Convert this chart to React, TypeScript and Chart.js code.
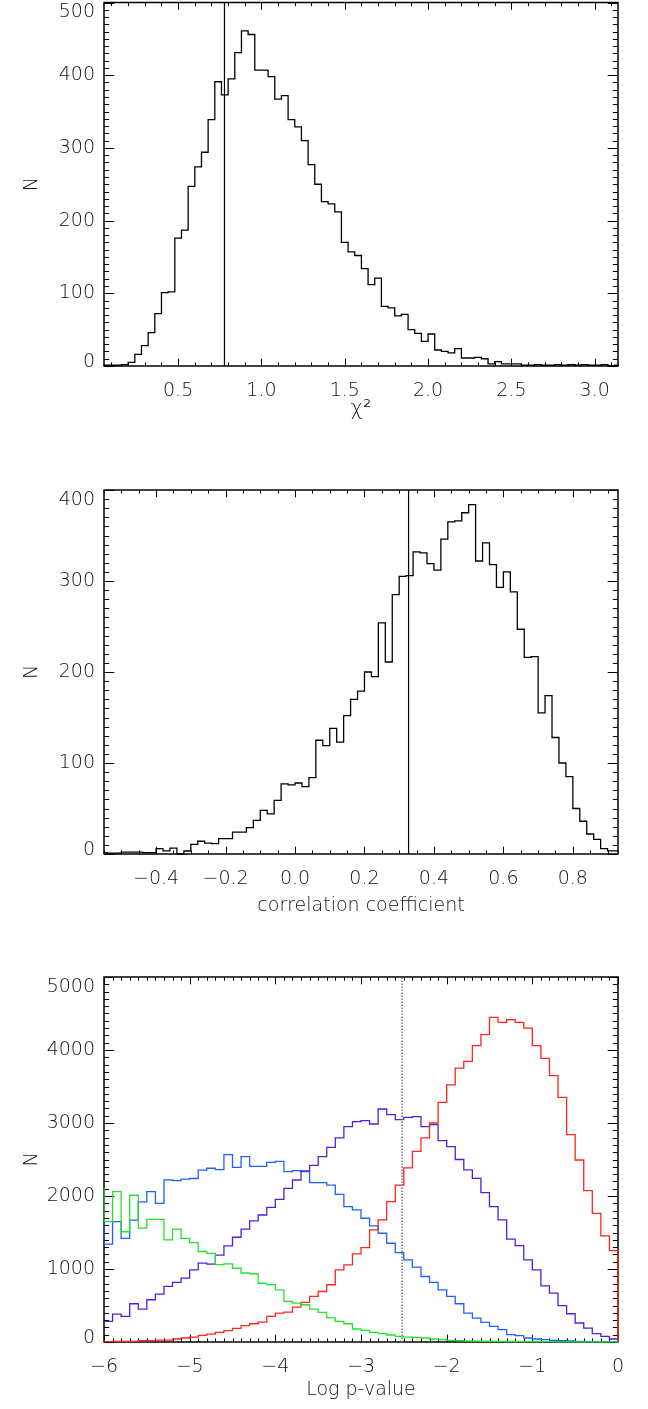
import React, { useEffect, useRef } from 'react';
import { Chart, registerables } from 'chart.js';

Chart.register(...registerables);

const FONT_FAMILY = 'DejaVu Sans';
const FONT_WEIGHT = 200;
const TEXT_COLOR = '#111';

// ---------- Panel 1: chi^2 histogram ----------
const chiBinStart = 0.04;
const chiBinWidth = 0.04;
const chiCounts = [
  1, 1, 1, 2, 5, 16, 28, 46, 72, 101, 102, 176, 187, 247, 274, 294, 339, 391, 373, 395,
  431, 461, 456, 407, 407, 398, 367, 372, 339, 329, 310, 277, 250, 226, 223, 212, 170, 157, 152, 134,
  112, 121, 82, 80, 69, 71, 50, 45, 34, 44, 22, 20, 18, 24, 11, 11, 12, 10, 3, 6,
  3, 3, 3, 1, 1, 2, 1, 1, 2, 1, 2, 1, 2, 1, 1, 2, 0, 1,
];
const chiMarker = [0.778];
const chiXTicks = [0.5, 1.0, 1.5, 2.0, 2.5, 3.0];
const chiXTickLabels = ['0.5', '1.0', '1.5', '2.0', '2.5', '3.0'];
const chiYTicks = [0, 100, 200, 300, 400, 500];
const chiYTickLabels = ['0', '100', '200', '300', '400', '500'];

// ---------- Panel 2: correlation coefficient histogram ----------
const corrBinStart = -0.56;
const corrBinWidth = 0.02;
const corrCounts = [
  1.5, 1, 1, 2, 2, 2, 1.5, 1.5, 6, 3.5, 6.5, 0, 3.3, 10.5, 14, 12, 11.5, 17, 17, 24,
  24, 29, 37, 48, 44, 59, 77, 76, 78, 74, 84, 125, 119, 138, 123, 152, 170, 179, 200, 195,
  254, 211, 285, 305, 306, 332, 331, 319, 312, 346, 365, 366, 375, 384, 322, 342, 318, 293, 310, 288,
  247, 216, 217, 155, 174, 128, 100, 85, 50, 36, 22, 16, 6, 3.5, 3.5,
];
const corrMarker = [0.327];
const corrXTicks = [-0.4, -0.2, 0.0, 0.2, 0.4, 0.6, 0.8];
const corrXTickLabels = ['\u22120.4', '\u22120.2', '0.0', '0.2', '0.4', '0.6', '0.8'];
const corrYTicks = [0, 100, 200, 300, 400];
const corrYTickLabels = ['0', '100', '200', '300', '400'];

// ---------- Panel 3: log p-value histograms (first bin lies just left of the axis) ----------
const pBinStart = -6.1;
const pBinWidth = 0.1;
const pRed = [
  5, 5, 8, 9, 9, 18, 18, 27, 27, 41, 55, 68, 91, 109, 132, 155, 187, 223, 250, 273, 351,
  396, 410, 478, 542, 624, 692, 784, 989, 1057, 1207, 1294, 1535, 1672, 1923, 2150, 2385, 2612, 2795, 3000, 3283,
  3521, 3753, 3845, 4059, 4210, 4447, 4379, 4415, 4379, 4301, 4059, 3886, 3648, 3352, 2840, 2493, 2073, 1763, 1453, 1253,
];
const pPurple = [
  282, 282, 383, 351, 524, 451, 579, 656, 761, 816, 875, 989, 1080, 1066, 1189, 1317, 1435, 1545, 1658, 1740, 1845,
  1955, 2105, 2219, 2345, 2420, 2539, 2667, 2795, 2950, 3018, 3032, 2986, 3192, 3114, 3046, 3078, 3087, 2950, 2977, 2758,
  2676, 2500, 2358, 2242, 2046, 1854, 1672, 1408, 1321, 1125, 989, 770, 670, 497, 387, 260, 191, 114, 77, 41,
];
const pBlue = [
  1617, 1340, 1650, 1420, 1670, 1920, 2060, 1900, 2220, 2210, 2230, 2240, 2355, 2380, 2360, 2566, 2393, 2539, 2406, 2406, 2461,
  2475, 2333, 2347, 2333, 2182, 2182, 2150, 2023, 1854, 1809, 1695, 1590, 1490, 1353, 1225, 1125, 1025, 897, 816, 715,
  624, 524, 396, 328, 269, 214, 169, 100, 87, 55, 41, 32, 23, 18, 14, 9, 5, 5, 5, 5,
];
const pGreen = [
  2105, 1650, 2060, 1510, 2010, 1560, 1680, 1680, 1400, 1545, 1420, 1360, 1240, 1215, 1060, 1070, 1010, 945, 935, 805, 785,
  715, 555, 533, 510, 450, 405, 330, 282, 250, 178, 160, 132, 114, 96, 77, 68, 64, 55, 41, 32,
  23, 18, 14, 12, 10, 9, 8, 7, 6, 5, 5, 4, 4, 3, 3, 2, 2, 2, 1, 1,
];
const pMarker = [-2.52];
const pXTicks = [-6, -5, -4, -3, -2, -1, 0];
const pXTickLabels = ['\u22126', '\u22125', '\u22124', '\u22123', '\u22122', '\u22121', '0'];
const pYTicks = [0, 1000, 2000, 3000, 4000, 5000];
const pYTickLabels = ['0', '1000', '2000', '3000', '4000', '5000'];

const COLORS = {
  red: 'rgb(255,38,28)',
  purple: 'rgb(78,32,222)',
  blue: 'rgb(32,96,255)',
  green: 'rgb(36,226,46)',
};

function stepPoints(start: number, width: number, counts: number[]) {
  const pts = counts.map((c, i) => ({ x: +(start + i * width).toFixed(5), y: c }));
  pts.push({ x: +(start + counts.length * width).toFixed(5), y: 0 });
  return pts;
}

function markerPoints(xs: number[], yMin: number, yMax: number) {
  return [
    { x: xs[0], y: yMin },
    { x: xs[0], y: yMax },
  ];
}

const framePlugin = {
  id: 'frameTicks',
  beforeDatasetsDraw(chart: any, _args: any, opts: any) {
    const { ctx, chartArea: a, scales } = chart;
    const xs = scales.x;
    const ys = scales.y;
    ctx.save();
    ctx.strokeStyle = '#000';
    ctx.lineWidth = 1;
    ctx.beginPath();
    const xLen = opts.xTickLen;
    const yLen = opts.yTickLen;
    const i0 = Math.ceil(xs.min / opts.xMinor - 1e-6);
    for (let i = i0; i * opts.xMinor <= xs.max + 1e-9; i++) {
      const v = i * opts.xMinor;
      const r = v / opts.xMajor;
      const major = Math.abs(r - Math.round(r)) < 1e-6;
      const len = major ? xLen : xLen / 2;
      const px = Math.round(xs.getPixelForValue(v)) + 0.5;
      ctx.moveTo(px, a.bottom);
      ctx.lineTo(px, a.bottom - len);
      ctx.moveTo(px, a.top);
      ctx.lineTo(px, a.top + len);
    }
    const j0 = Math.ceil(ys.min / opts.yMinor - 1e-6);
    for (let j = j0; j * opts.yMinor <= ys.max + 1e-9; j++) {
      const v = j * opts.yMinor;
      const r = v / opts.yMajor;
      const major = Math.abs(r - Math.round(r)) < 1e-6;
      const len = major ? yLen : yLen / 2;
      const py = Math.round(ys.getPixelForValue(v)) + 0.5;
      ctx.moveTo(a.left, py);
      ctx.lineTo(a.left + len, py);
      ctx.moveTo(a.right, py);
      ctx.lineTo(a.right - len, py);
    }
    ctx.stroke();
    ctx.lineWidth = 1.5;
    ctx.strokeRect(a.left, a.top, a.right - a.left, a.bottom - a.top);
    ctx.restore();
  },
};

interface PanelSpec {
  top: number;
  height: number;
  padTop: number;
  xAxisHeight: number;
  titlePadBottom: number;
  xMin: number;
  xMax: number;
  yMin: number;
  yMax: number;
  xTicks: number[];
  xTickLabels: string[];
  yTicks: number[];
  yTickLabels: string[];
  xMinor: number;
  xMajor: number;
  yMinor: number;
  yMajor: number;
  xTitle: string;
  titleSize: number;
  datasets: any[];
}

function buildConfig(p: PanelSpec): any {
  const font = { family: FONT_FAMILY, size: 19, weight: FONT_WEIGHT };
  const nY = p.yTicks.length;
  return {
    type: 'line',
    data: { datasets: p.datasets },
    plugins: [framePlugin],
    options: {
      animation: false,
      responsive: false,
      maintainAspectRatio: false,
      events: [],
      layout: { padding: { top: p.padTop, right: 30, bottom: 0, left: 0 } },
      plugins: {
        legend: { display: false },
        tooltip: { enabled: false },
        frameTicks: {
          xMinor: p.xMinor,
          xMajor: p.xMajor,
          yMinor: p.yMinor,
          yMajor: p.yMajor,
          xTickLen: 7.3,
          yTickLen: 10.3,
        },
      },
      elements: { point: { radius: 0 }, line: { tension: 0 } },
      scales: {
        x: {
          type: 'linear',
          min: p.xMin,
          max: p.xMax,
          grid: { display: false, drawTicks: false },
          border: { display: false },
          afterBuildTicks: (scale: any) => {
            scale.ticks = p.xTicks.map((v) => ({ value: v }));
          },
          afterFit: (scale: any) => {
            scale.height = p.xAxisHeight;
            scale.paddingLeft = 0;
            scale.paddingRight = 0;
          },
          ticks: {
            autoSkip: false,
            maxRotation: 0,
            minRotation: 0,
            padding: 13.5,
            color: TEXT_COLOR,
            font,
            callback: (_v: any, i: number) => p.xTickLabels[i],
          },
          title: {
            display: true,
            text: p.xTitle,
            color: TEXT_COLOR,
            font: { family: FONT_FAMILY, size: p.titleSize, weight: FONT_WEIGHT },
            padding: { top: 0, bottom: p.titlePadBottom },
          },
        },
        y: {
          type: 'linear',
          min: p.yMin,
          max: p.yMax,
          grid: { display: false, drawTicks: false },
          border: { display: false },
          afterBuildTicks: (scale: any) => {
            scale.ticks = p.yTicks.map((v) => ({ value: v }));
          },
          afterFit: (scale: any) => {
            scale.width = 104;
            scale.paddingTop = 0;
            scale.paddingBottom = 0;
          },
          ticks: {
            autoSkip: false,
            padding: 9,
            color: TEXT_COLOR,
            font: (ctx: any) => {
              if (ctx.index === 0) return { ...font, lineHeight: '8.8px' };
              if (ctx.index === nY - 1) return { ...font, lineHeight: '19.6px' };
              return font;
            },
            callback: (_v: any, i: number) => {
              const t = p.yTickLabels[i];
              if (i === 0) return [t, ''];
              if (i === nY - 1) return ['', t];
              return t;
            },
          },
          title: {
            display: true,
            text: 'N',
            color: TEXT_COLOR,
            font,
            padding: { top: 21, bottom: 0 },
          },
        },
      },
    },
  };
}

function histDataset(label: string, pts: any[], color: string, width = 1.3) {
  return {
    label,
    data: pts,
    borderColor: color,
    borderWidth: width,
    stepped: 'before',
    fill: false,
    pointRadius: 0,
    clip: { left: 0.5, top: 0, right: 1, bottom: 1 },
  };
}

function markerDataset(label: string, pts: any[], color: string, dash: number[] = [], width = 1.2) {
  return {
    label,
    data: pts,
    borderColor: color,
    borderWidth: width,
    borderDash: dash,
    fill: false,
    pointRadius: 0,
    clip: 0,
  };
}

const panels: PanelSpec[] = [
  {
    top: 0,
    height: 440,
    padTop: 2.5,
    xAxisHeight: 74,
    titlePadBottom: 17.5,
    xMin: 0.055,
    xMax: 3.14,
    yMin: 0,
    yMax: 500,
    xTicks: chiXTicks,
    xTickLabels: chiXTickLabels,
    yTicks: chiYTicks,
    yTickLabels: chiYTickLabels,
    xMinor: 0.1,
    xMajor: 0.5,
    yMinor: 10,
    yMajor: 100,
    xTitle: '\u03C7\u00B2',
    titleSize: 21,
    datasets: [
      markerDataset('marker', markerPoints(chiMarker, 0, 500), '#000'),
      histDataset('chi2', stepPoints(chiBinStart, chiBinWidth, chiCounts), '#000'),
    ],
  },
  {
    top: 460,
    height: 460,
    padTop: 30,
    xAxisHeight: 66,
    titlePadBottom: 2.6,
    xMin: -0.55,
    xMax: 0.93,
    yMin: 0,
    yMax: 400,
    xTicks: corrXTicks,
    xTickLabels: corrXTickLabels,
    yTicks: corrYTicks,
    yTickLabels: corrYTickLabels,
    xMinor: 0.05,
    xMajor: 0.2,
    yMinor: 10,
    yMajor: 100,
    xTitle: 'correlation coefficient',
    titleSize: 19,
    datasets: [
      markerDataset('marker', markerPoints(corrMarker, 0, 400), '#000'),
      histDataset('corr', stepPoints(corrBinStart, corrBinWidth, corrCounts), '#000'),
    ],
  },
  {
    top: 950,
    height: 459,
    padTop: 27,
    xAxisHeight: 67,
    titlePadBottom: 7.6,
    xMin: -6,
    xMax: 0,
    yMin: 0,
    yMax: 5000,
    xTicks: pXTicks,
    xTickLabels: pXTickLabels,
    yTicks: pYTicks,
    yTickLabels: pYTickLabels,
    xMinor: 0.1,
    xMajor: 1,
    yMinor: 100,
    yMajor: 1000,
    xTitle: 'Log p-value',
    titleSize: 19,
    datasets: [
      markerDataset('threshold', markerPoints(pMarker, 0, 5000), '#777', [1.5, 1.5], 1.5),
      histDataset('green', stepPoints(pBinStart, pBinWidth, pGreen), COLORS.green),
      histDataset('red', stepPoints(pBinStart, pBinWidth, pRed), COLORS.red),
      histDataset('purple', stepPoints(pBinStart, pBinWidth, pPurple), COLORS.purple),
      histDataset('blue', stepPoints(pBinStart, pBinWidth, pBlue), COLORS.blue),
    ],
  },
];

function Panel({ spec }: { spec: PanelSpec }) {
  const ref = useRef<HTMLCanvasElement | null>(null);
  useEffect(() => {
    if (!ref.current) return;
    const chart = new Chart(ref.current, buildConfig(spec));
    return () => chart.destroy();
  }, [spec]);
  return (
    <canvas
      ref={ref}
      width={648}
      height={spec.height}
      style={{ position: 'absolute', left: 0, top: spec.top, width: 648, height: spec.height }}
    />
  );
}

export default function App() {
  return (
    <div
      style={{
        position: 'absolute',
        left: 0,
        top: 0,
        width: 648,
        height: 1409,
        background: '#fff',
        overflow: 'hidden',
      }}
    >
      {panels.map((p, i) => (
        <Panel key={i} spec={p} />
      ))}
    </div>
  );
}
